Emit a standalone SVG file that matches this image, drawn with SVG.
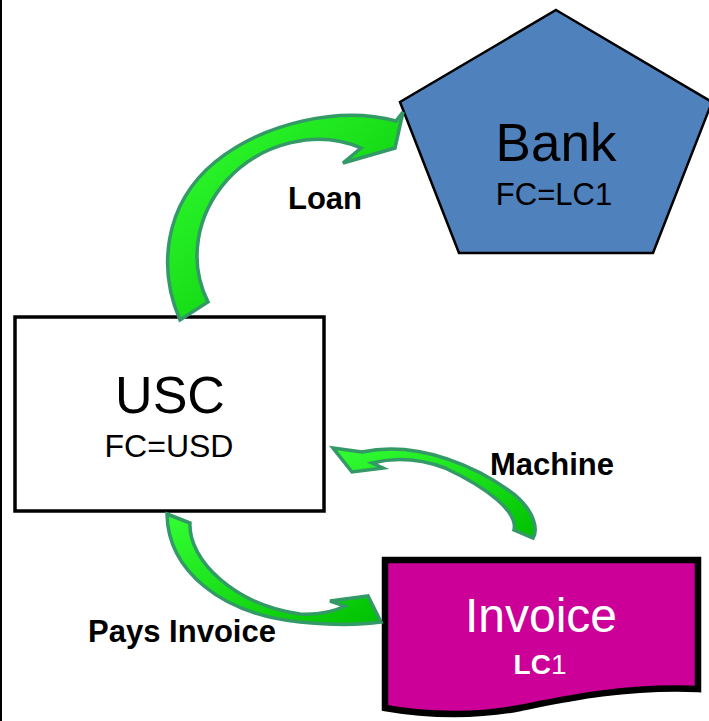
<svg xmlns="http://www.w3.org/2000/svg" width="709" height="721" viewBox="0 0 709 721">
<defs>
<style>
.node-title{font-family:"Liberation Sans",Arial,sans-serif;text-anchor:middle}
.label{font-family:"Liberation Sans",Arial,sans-serif;font-weight:bold;font-size:31px;fill:#000;text-anchor:middle}
.arrow{stroke:#339966;stroke-width:3.5;stroke-linejoin:miter}
</style>
<linearGradient id="g1" x1="0" y1="0" x2="1" y2="1">
<stop offset="0" stop-color="#33FF33"/>
<stop offset="1" stop-color="#00C000"/>
</linearGradient>
</defs>
<rect x="0" y="0" width="709" height="721" fill="#fff"/>
<rect x="0" y="0" width="2" height="721" fill="#000"/>

<g id="bank">
<polygon points="556,10 712,102 653,253 459,253 400,102" fill="#4F81BD" stroke="#000" stroke-width="2.5"/>
<text class="node-title" x="556" y="161" font-size="53" fill="#000">Bank</text>
<text class="node-title" x="554" y="205" font-size="31" fill="#000">FC=LC1</text>
</g>

<g id="usc">
<rect x="15" y="317" width="309" height="194" fill="#fff" stroke="#000" stroke-width="3.5"/>
<text class="node-title" x="170" y="413" font-size="52" fill="#000">USC</text>
<text class="node-title" x="169" y="457" font-size="32" fill="#000">FC=USD</text>
</g>

<g id="invoice">
<path d="M385,560 H698 V689 C620,686 560,700 520,708 C480,716 430,716 385,708 Z" fill="#CC0099" stroke="#000" stroke-width="6.5"/>
<text class="node-title" x="541" y="632" font-size="48" fill="#fff">Invoice</text>
<text class="node-title" x="540" y="674" font-size="28" fill="#fff"><tspan font-weight="bold">LC</tspan>1</text>
</g>

<g id="connectors">
<path class="arrow" fill="url(#g1)" d="M180,320 C158,270 163,205 215,162 C265,122 340,106 396,121 L403,112 L395,148 L343,163 L361,148 C318,129 262,142 227,180 C196,215 188,262 208,302 Z"/>
<path class="arrow" fill="url(#g1)" d="M333,448 L362,452 C420,440 480,468 515,495 C535,512 538,530 533,538 L514,530 C518,512 488,488 445,468 C418,458 392,458 372,463 L383,468 L352,472 Z"/>
<path class="arrow" fill="url(#g1)" d="M167,514 L190,523 C188,560 235,605 300,614 C320,615 335,611 345,606 L330,601 L368,596 L381,622 C360,625 330,625 300,622 C220,614 168,570 167,514 Z"/>
</g>

<g id="labels">
<text class="label" x="325" y="209">Loan</text>
<text class="label" x="552" y="475">Machine</text>
<text class="label" x="182" y="642">Pays Invoice</text>
</g>
</svg>
